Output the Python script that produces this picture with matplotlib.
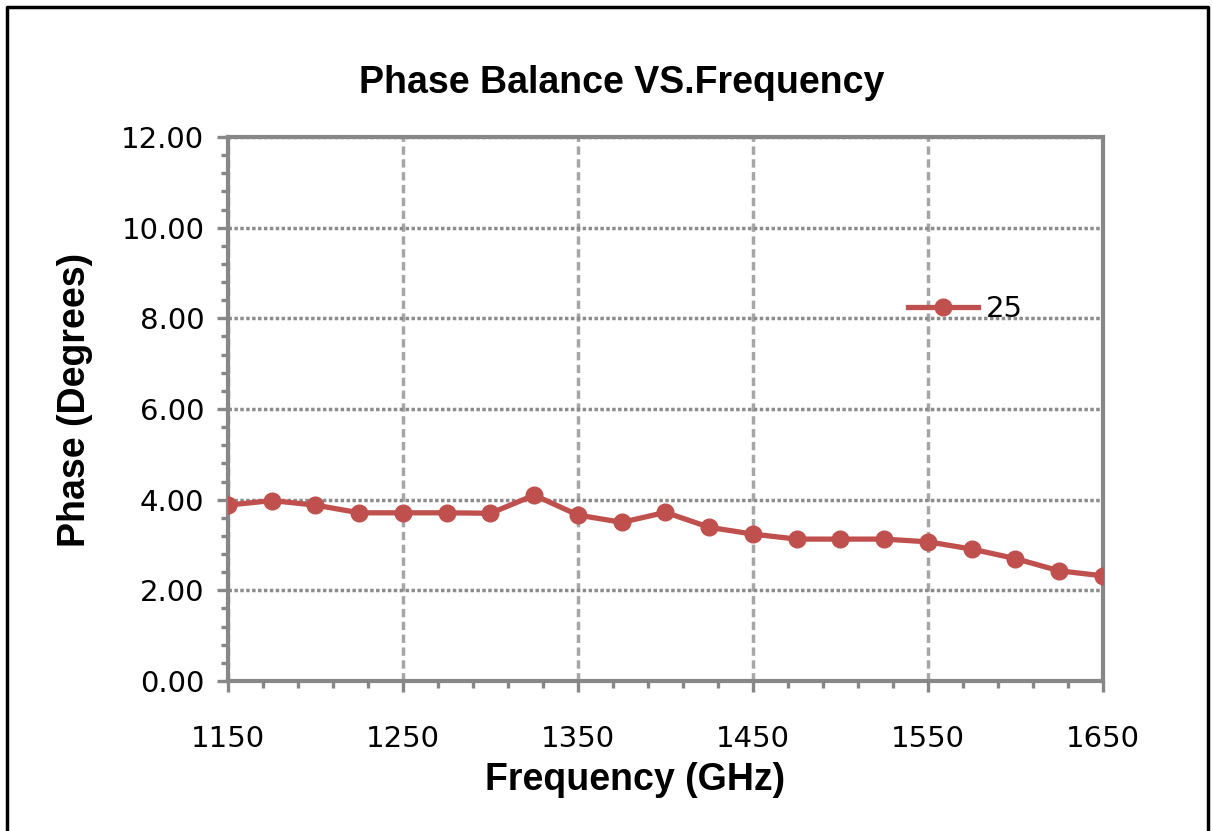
import numpy as np
import matplotlib
matplotlib.use("Agg")
import matplotlib.pyplot as plt
from matplotlib.lines import Line2D

freq = [1150, 1175, 1200, 1225, 1250, 1275, 1300, 1325, 1350, 1375, 1400,
        1425, 1450, 1475, 1500, 1525, 1550, 1575, 1600, 1625, 1650]
phase = [3.88, 3.98, 3.88, 3.71, 3.71, 3.71, 3.70, 4.10, 3.66, 3.50, 3.72,
         3.39, 3.24, 3.13, 3.13, 3.13, 3.07, 2.91, 2.70, 2.43, 2.32]
series_name = "25"
xticks = [1150, 1250, 1350, 1450, 1550, 1650]
yticks = [0, 2, 4, 6, 8, 10, 12]

plt.rcParams["font.family"] = "DejaVu Sans"

W, H = 1213, 831
fig = plt.figure(figsize=(W / 100, H / 100), dpi=100)
ax = fig.add_axes([228 / W, 1 - 681 / H, 875 / W, 544 / H])

red = "#C0504D"
spine_gray = "#878787"

ax.plot(freq, phase, color=red, lw=3.8, marker="o", ms=12, label=series_name, zorder=3)

ax.set_xlim(1150, 1650)
ax.set_ylim(0, 12)
ax.set_xticks(xticks)
ax.set_yticks(yticks)
ax.set_yticklabels(["%.2f" % v for v in yticks])
ax.set_xticks(np.arange(1150, 1651, 20), minor=True)
ax.set_yticks(np.arange(0, 12.01, 0.4), minor=True)

for s in ax.spines.values():
    s.set_color(spine_gray)
    s.set_linewidth(3)

ax.tick_params(which="major", length=8, width=2.4, color=spine_gray,
               labelsize=21, pad=9)
ax.tick_params(which="minor", length=5, width=2.4, color=spine_gray)
ax.tick_params(axis="x", which="major", pad=24)

ax.grid(axis="y", which="major", color="#8c8c8c", lw=2.5, ls=(0, (1, 0.7)))
ax.grid(axis="x", which="major", color="#a6a6a6", lw=2.5, ls=(0, (2.4, 1.3)))
ax.set_axisbelow(True)

leg = ax.legend(loc="center left", bbox_to_anchor=(0.76, 0.683), frameon=False,
                fontsize=21, handlelength=2.4, handletextpad=0.3, borderpad=0)

fig.text(622 / W, 1 - 83 / H, "Phase Balance VS.Frequency", ha="center", va="center",
         fontsize=27, fontweight="bold", family="Liberation Sans")
fig.text(635 / W, 1 - 780 / H, "Frequency (GHz)", ha="center", va="center",
         fontsize=27, fontweight="bold", family="Liberation Sans")
fig.text(75 / W, 1 - 400 / H, "Phase (Degrees)", ha="center", va="center", rotation=90,
         fontsize=27, fontweight="bold", family="Liberation Sans")

# outer chart border (bottom edge falls outside the image)
fig.add_artist(Line2D([7 / W, 7 / W, 1208 / W, 1208 / W], [-0.05, 1 - 7 / H, 1 - 7 / H, -0.05],
                      transform=fig.transFigure, color="black", lw=2.5))

fig.savefig("out.png", dpi=100)
